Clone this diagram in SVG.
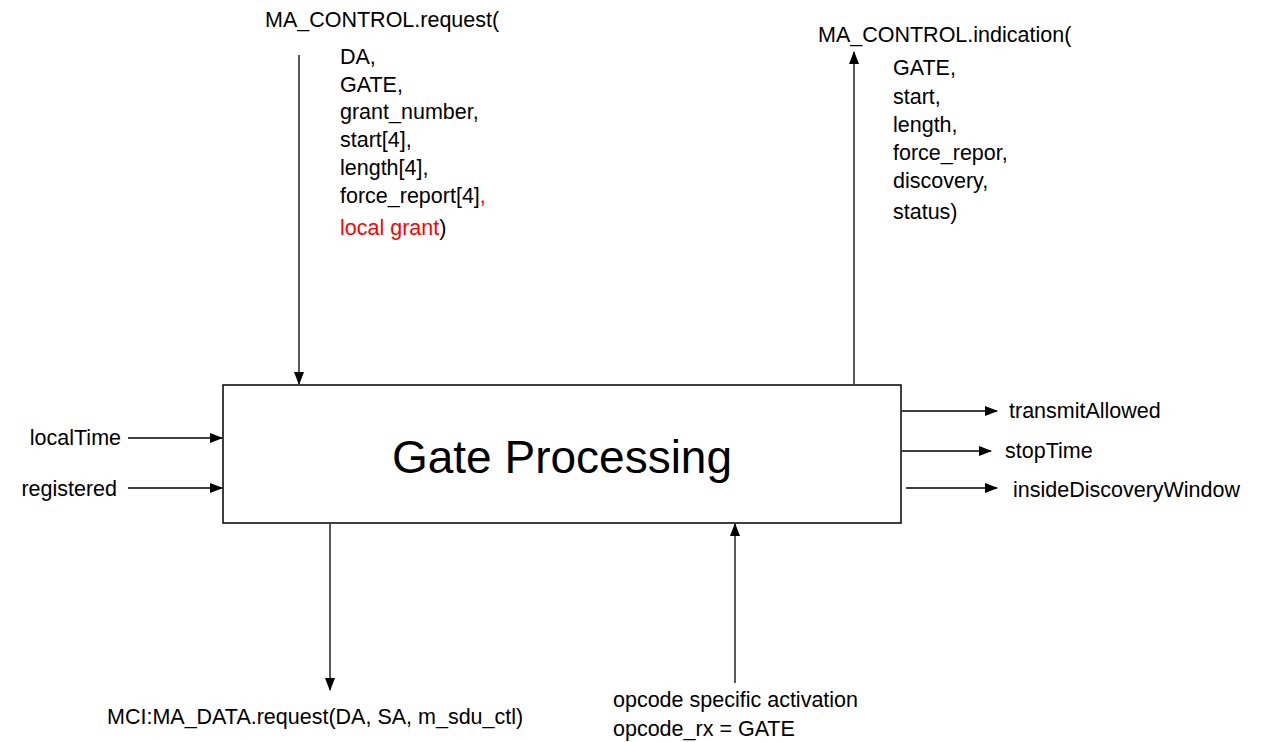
<svg xmlns="http://www.w3.org/2000/svg" width="1263" height="742" viewBox="0 0 1263 742">
<style>
text{font-family:"Liberation Sans",Arial,sans-serif;font-size:21.5px;fill:#000}
.red{fill:#ff0000}
.big{font-size:46px}
.c{stroke:#000;stroke-width:1.3;fill:none}
</style>
<defs>
<marker id="ah" markerWidth="13" markerHeight="10" refX="12" refY="5" orient="auto" markerUnits="userSpaceOnUse">
<path d="M0,0 L13,5 L0,10 Z" fill="#000"/>
</marker>
</defs>
<rect width="1263" height="742" fill="#fff"/>
<g id="gate-processing">
<rect x="223" y="385" width="678" height="138" fill="#fff" stroke="#000" stroke-width="1.5"/>
<text class="big" x="562" y="473" text-anchor="middle">Gate Processing</text>
</g>
<g id="connectors">
<line class="c" x1="299" y1="55" x2="299" y2="384" marker-end="url(#ah)"/>
<line class="c" x1="854" y1="384" x2="854" y2="52" marker-end="url(#ah)"/>
<line class="c" x1="128" y1="438" x2="222" y2="438" marker-end="url(#ah)"/>
<line class="c" x1="128" y1="488" x2="222" y2="488" marker-end="url(#ah)"/>
<line class="c" x1="902" y1="411" x2="997" y2="411" marker-end="url(#ah)"/>
<line class="c" x1="902" y1="451" x2="991" y2="451" marker-end="url(#ah)"/>
<line class="c" x1="906" y1="488" x2="997" y2="488" marker-end="url(#ah)"/>
<line class="c" x1="330" y1="524" x2="330" y2="690" marker-end="url(#ah)"/>
<line class="c" x1="735" y1="683" x2="735" y2="524" marker-end="url(#ah)"/>
</g>
<g id="request-label">
<text x="265" y="27">MA_CONTROL.request(</text>
<text x="340" y="64">DA,</text>
<text x="340" y="92">GATE,</text>
<text x="340" y="119">grant_number,</text>
<text x="340" y="147">start[4],</text>
<text x="340" y="175">length[4],</text>
<text x="340" y="203">force_report[4]<tspan class="red">,</tspan></text>
<text x="340" y="235"><tspan class="red">local grant</tspan>)</text>
</g>
<g id="indication-label">
<text x="818" y="42">MA_CONTROL.indication(</text>
<text x="893" y="75">GATE,</text>
<text x="893" y="104">start,</text>
<text x="893" y="132">length,</text>
<text x="893" y="160">force_repor,</text>
<text x="893" y="188">discovery,</text>
<text x="893" y="219">status)</text>
</g>
<g id="inputs">
<text x="121" y="445" text-anchor="end">localTime</text>
<text x="117" y="496" text-anchor="end">registered</text>
</g>
<g id="outputs">
<text x="1009" y="418">transmitAllowed</text>
<text x="1005" y="458">stopTime</text>
<text x="1013" y="497">insideDiscoveryWindow</text>
</g>
<g id="mci-label">
<text x="107" y="724">MCI:MA_DATA.request(DA, SA, m_sdu_ctl)</text>
</g>
<g id="opcode-label">
<text x="613" y="707">opcode specific activation</text>
<text x="613" y="736">opcode_rx = GATE</text>
</g>
</svg>
